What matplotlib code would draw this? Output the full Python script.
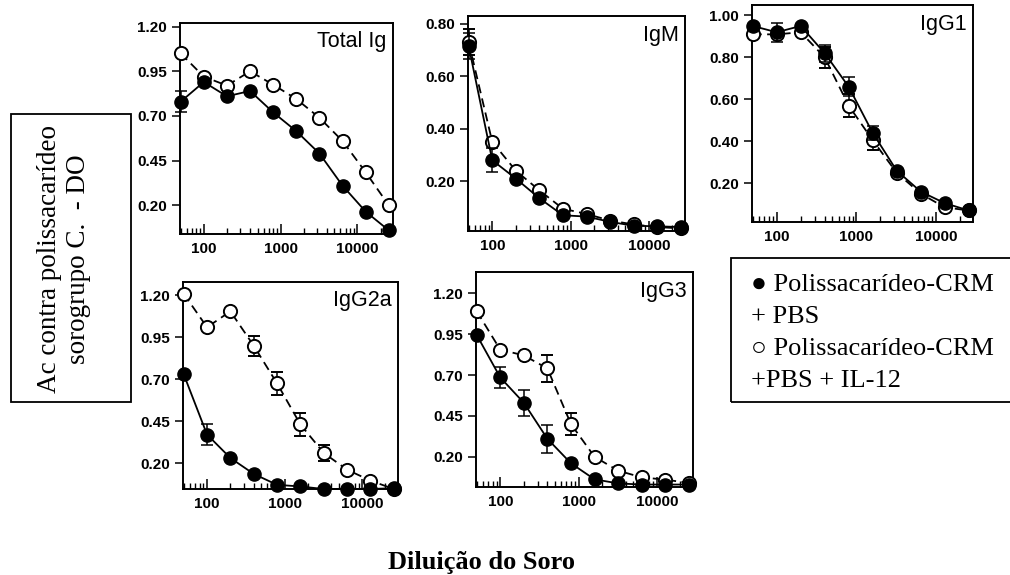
import matplotlib
matplotlib.use("Agg")
import matplotlib.pyplot as plt
from matplotlib.patches import Rectangle
from matplotlib.ticker import FixedLocator, LogLocator, NullFormatter

# diluições do soro (eixo x)
diluicao = [50, 100, 200, 400, 800, 1600, 3200, 6400, 12800, 25600]

# Total Ig
total_pbs = [0.78, 0.89, 0.81, 0.84, 0.72, 0.615, 0.49, 0.31, 0.165, 0.06]
total_il12 = [1.05, 0.92, 0.87, 0.95, 0.875, 0.795, 0.69, 0.56, 0.385, 0.20]
total_pbs_err = [0.06, 0, 0, 0, 0, 0, 0, 0, 0, 0]
total_il12_err = [0, 0, 0, 0, 0, 0, 0, 0, 0, 0]

# IgM
igm_pbs = [0.715, 0.28, 0.21, 0.135, 0.07, 0.065, 0.045, 0.03, 0.028, 0.025]
igm_il12 = [0.73, 0.35, 0.24, 0.165, 0.095, 0.075, 0.05, 0.035, 0.025, 0.02]
igm_pbs_err = [0.05, 0.045, 0, 0, 0, 0, 0, 0, 0, 0]
igm_il12_err = [0.05, 0, 0, 0, 0, 0, 0, 0, 0, 0]

# IgG1
igg1_pbs = [0.95, 0.92, 0.95, 0.82, 0.66, 0.44, 0.26, 0.16, 0.105, 0.07]
igg1_il12 = [0.91, 0.91, 0.92, 0.80, 0.57, 0.405, 0.25, 0.15, 0.085, 0.07]
igg1_pbs_err = [0, 0.045, 0, 0.04, 0.045, 0.035, 0, 0, 0, 0]
igg1_il12_err = [0, 0, 0, 0.05, 0.055, 0.045, 0, 0, 0, 0]

# IgG2a
igg2a_pbs = [0.73, 0.37, 0.23, 0.135, 0.07, 0.06, 0.045, 0.045, 0.045, 0.05]
igg2a_il12 = [1.21, 1.01, 1.105, 0.90, 0.675, 0.43, 0.26, 0.16, 0.095, 0.045]
igg2a_pbs_err = [0, 0.065, 0, 0, 0, 0, 0, 0, 0, 0]
igg2a_il12_err = [0, 0, 0, 0.06, 0.07, 0.07, 0.045, 0, 0, 0]

# IgG3
igg3_pbs = [0.945, 0.685, 0.53, 0.31, 0.16, 0.062, 0.037, 0.03, 0.03, 0.03]
igg3_il12 = [1.09, 0.855, 0.82, 0.74, 0.40, 0.20, 0.115, 0.074, 0.06, 0.04]
igg3_pbs_err = [0, 0.065, 0.08, 0.085, 0, 0, 0, 0, 0, 0]
igg3_il12_err = [0, 0, 0, 0.08, 0.065, 0, 0, 0, 0, 0]

paineis = [
    # titulo, pbs, il12, erros, yticks, ylim, posicao (px: esquerda, topo, direita, base)
    ("Total Ig", total_pbs, total_il12, total_pbs_err, total_il12_err,
     [0.20, 0.45, 0.70, 0.95, 1.20], (0.04, 1.22), (180, 23, 393, 234)),
    ("IgM", igm_pbs, igm_il12, igm_pbs_err, igm_il12_err,
     [0.20, 0.40, 0.60, 0.80], (0.01, 0.83), (468, 16, 685, 231)),
    ("IgG1", igg1_pbs, igg1_il12, igg1_pbs_err, igg1_il12_err,
     [0.20, 0.40, 0.60, 0.80, 1.00], (0.015, 1.05), (752, 5, 973, 222)),
    ("IgG2a", igg2a_pbs, igg2a_il12, igg2a_pbs_err, igg2a_il12_err,
     [0.20, 0.45, 0.70, 0.95, 1.20], (0.045, 1.28), (183, 282, 398, 489)),
    ("IgG3", igg3_pbs, igg3_il12, igg3_pbs_err, igg3_il12_err,
     [0.20, 0.45, 0.70, 0.95, 1.20], (0.015, 1.33), (476, 272, 693, 487)),
]

W, H = 1010, 575
fig = plt.figure(figsize=(W / 100, H / 100), dpi=100)

sans = ["Liberation Sans", "DejaVu Sans"]
serif = ["Liberation Serif", "DejaVu Serif"]

for titulo, pbs, il12, e_pbs, e_il12, yt, yl, (l, t, r, b) in paineis:
    ax = fig.add_axes([l / W, 1 - b / H, (r - l) / W, (b - t) / H])

    # PBS + IL-12 (círculo aberto, tracejado)
    ax.errorbar(diluicao, il12, yerr=e_il12,
                color="black", ls=(0, (5, 3)), lw=1.3, marker="o", ms=9.5,
                mfc="white", mec="black", mew=1.4, capsize=4, elinewidth=1.1,
                capthick=1.1, clip_on=False, zorder=3)
    # PBS (círculo cheio, contínuo)
    ax.errorbar(diluicao, pbs, yerr=e_pbs,
                color="black", ls="-", lw=1.3, marker="o", ms=9.5,
                mfc="black", mec="black", capsize=4, elinewidth=1.1,
                capthick=1.1, clip_on=False, zorder=4)

    ax.set_xscale("log")
    ax.set_xlim(49, 29000)
    ax.set_ylim(*yl)
    ax.xaxis.set_major_locator(FixedLocator([100, 1000, 10000]))
    ax.set_xticklabels(["100", "1000", "10000"])
    ax.xaxis.set_minor_locator(LogLocator(base=10, subs=range(2, 10)))
    ax.xaxis.set_minor_formatter(NullFormatter())
    ax.set_yticks(yt)
    ax.set_yticklabels(["%.2f" % v for v in yt])

    ax.tick_params(axis="x", which="major", direction="in", length=7, width=1.1, pad=6)
    ax.tick_params(axis="x", which="minor", direction="in", length=4, width=1.0)
    ax.tick_params(axis="y", direction="out", length=6, width=1.1)
    for lab in ax.get_xticklabels() + ax.get_yticklabels():
        lab.set_family(sans)
        lab.set_fontsize(11)
        lab.set_fontweight("bold")
    for s in ax.spines.values():
        s.set_linewidth(1.4)

    ax.text(0.97, 0.96, titulo, transform=ax.transAxes, ha="right", va="top",
            fontsize=15.5, family=sans)

# caixa do rótulo do eixo y
fig.add_artist(Rectangle((11 / W, 1 - 402 / H), 120 / W, 288 / H,
                         transform=fig.transFigure, fill=False, lw=1.3, ec="black"))
fig.text(64 / W, 1 - 259 / H, "Ac contra polissacarídeo\nsorogrupo C.  - DO",
         rotation=90, ha="center", va="center", multialignment="center",
         fontsize=19.5, family=serif, linespacing=1.2)

# caixa da legenda
fig.add_artist(Rectangle((731 / W, 1 - 402 / H), 290 / W, 144 / H,
                         transform=fig.transFigure, fill=False, lw=1.3, ec="black"))
legenda = ["● Polissacarídeo-CRM", "+ PBS", "○ Polissacarídeo-CRM", "+PBS + IL-12"]
for i, linha in enumerate(legenda):
    fig.text(751 / W, 1 - (285 + 32 * i) / H, linha, ha="left", va="center",
             fontsize=19, family=serif)

fig.text(481 / W, 1 - 563 / H, "Diluição do Soro", ha="center", va="center",
         fontsize=19, fontweight="bold", family=serif)

fig.savefig("out.png", dpi=100)
